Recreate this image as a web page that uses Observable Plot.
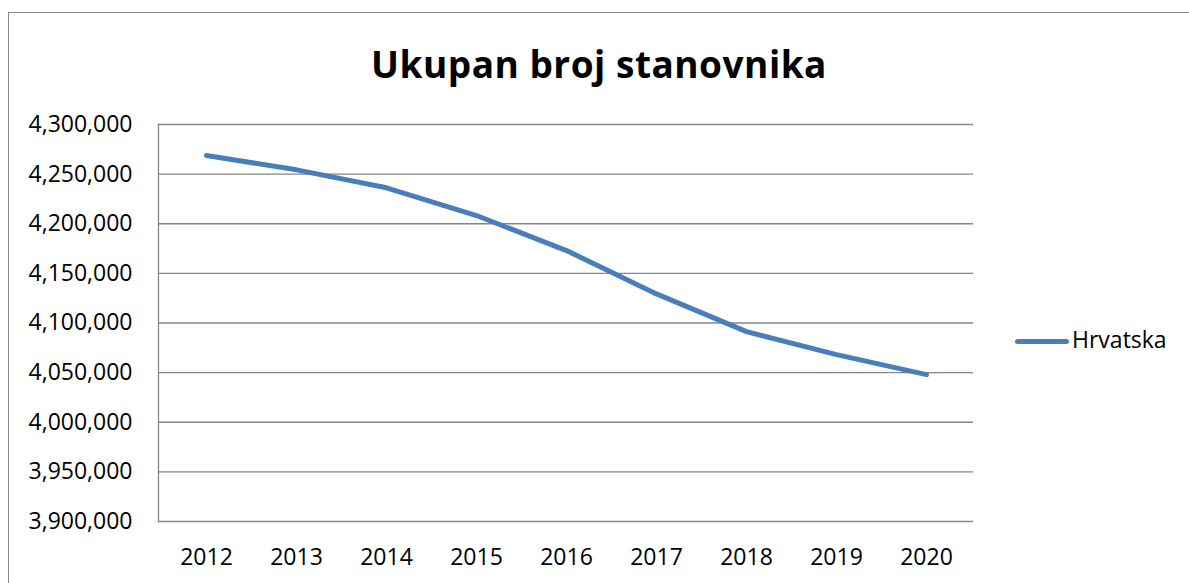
<!DOCTYPE html>
<html>
<head>
<meta charset="utf-8">
<script src="https://cdn.jsdelivr.net/npm/d3@7"></script>
<script src="https://cdn.jsdelivr.net/npm/@observablehq/plot@0.6"></script>
<style>
  html, body { margin: 0; padding: 0; background: #fff; }
  #wrap { position: relative; width: 1189px; height: 583px; overflow: hidden; background: #fff; }
  #border { position: absolute; left: 8px; top: 12px; width: 1300px; height: 700px;
            border-left: 1.5px solid #888; border-top: 1.5px solid #888; }
  #title { position: absolute; left: 599px; top: 45px; transform: translateX(-50%);
           font: bold 37px "Open Sans", sans-serif; letter-spacing: 0.5px; line-height: 1; white-space: nowrap; color: #000; }
  #legend-line { position: absolute; left: 1015px; top: 338.5px; width: 54px; height: 5px;
                 border-radius: 2.5px; background: #4a7ebb; }
  #legend-text { position: absolute; left: 1072px; top: 328px;
                 font: 23px "Open Sans", sans-serif; line-height: 1; white-space: nowrap; color: #000; }
  #chart { position: absolute; left: 0; top: 0; }
</style>
</head>
<body>
<div id="wrap">
  <div id="border"></div>
  <div id="chart"></div>
  <div id="title"></div>
  <div id="legend-line"></div>
  <div id="legend-text"></div>
</div>
<script>
const titleText = "Ukupan broj stanovnika";
const seriesName = "Hrvatska";
const years = ["2012", "2013", "2014", "2015", "2016", "2017", "2018", "2019", "2020"];
const population = [4268750, 4254330, 4236200, 4208270, 4173000, 4129330, 4091330, 4068150, 4048000];
const yTicks = [3900000, 3950000, 4000000, 4050000, 4100000, 4150000, 4200000, 4250000, 4300000];

const data = years.map((y, i) => ({year: y, value: population[i]}));

document.getElementById("title").textContent = titleText;
document.getElementById("legend-text").textContent = seriesName;

const gridColor = "#868686";

const chart = Plot.plot({
  width: 1189,
  height: 583,
  marginLeft: 158,
  marginRight: 216,
  marginTop: 124,
  marginBottom: 62,
  style: {fontFamily: "'Open Sans', sans-serif", fontSize: "23px", color: "#000", background: "transparent", overflow: "visible"},
  x: {type: "point", domain: years, padding: 0.5, label: null},
  y: {domain: [3900000, 4300000], label: null},
  marks: [
    Plot.gridY(yTicks, {stroke: gridColor, strokeOpacity: 1, strokeWidth: 1.3}),
    Plot.frame({anchor: "left", stroke: gridColor, strokeWidth: 1.3}),
    Plot.axisY(yTicks, {tickSize: 0, tickPadding: 26, tickFormat: d3.format(","), fontSize: 23, label: null}),
    Plot.axisX({tickSize: 0, tickPadding: 27, fontSize: 23, label: null}),
    Plot.line(data, {x: "year", y: "value", stroke: "#4a7ebb", strokeWidth: 5, strokeLinecap: "round", strokeLinejoin: "round"})
  ]
});
document.getElementById("chart").appendChild(chart);
</script>
</body>
</html>
